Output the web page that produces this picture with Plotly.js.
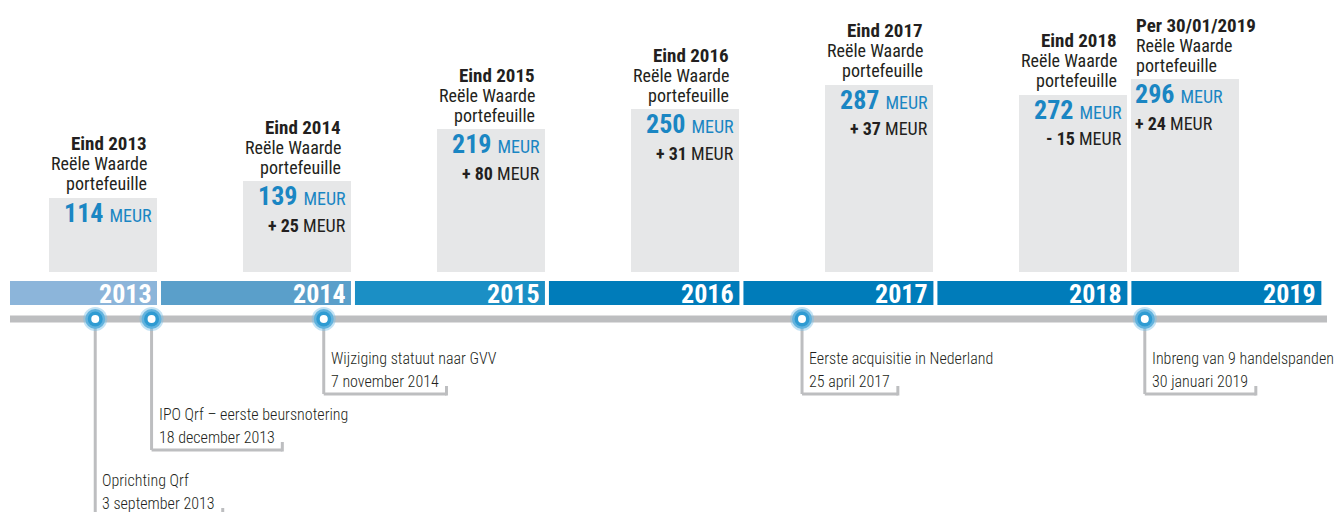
<!DOCTYPE html>
<html>
<head>
<meta charset="utf-8">
<script src="https://cdn.plot.ly/plotly-3.0.1.min.js"></script>
<style>
  html, body { margin: 0; padding: 0; background: #ffffff; }
  #chart { width: 1336px; height: 512px; }
</style>
</head>
<body>
<div id="chart"></div>
<script>
// ---------------- DATA ----------------
const periods = ['Eind 2013', 'Eind 2014', 'Eind 2015', 'Eind 2016', 'Eind 2017', 'Eind 2018', 'Per 30/01/2019'];
const valueDates = ['2013-12-31', '2014-12-31', '2015-12-31', '2016-12-31', '2017-12-31', '2018-12-31', '2019-01-30'];
const fairValue = [114, 139, 219, 250, 287, 272, 296];          // Reële Waarde portefeuille (MEUR)
const changeVsPrev = [null, 25, 80, 31, 37, -15, 24];             // MEUR
const years = [2013, 2014, 2015, 2016, 2017, 2018, 2019];

const eventDates = ['2013-09-03', '2013-12-18', '2014-11-07', '2017-04-25', '2019-01-30'];
const eventTitles = ['Oprichting Qrf', 'IPO Qrf \u2013 eerste beursnotering', 'Wijziging statuut naar GVV',
                     'Eerste acquisitie in Nederland', 'Inbreng van 9 handelspanden'];
const eventDateLabels = ['3 september 2013', '18 december 2013', '7 november 2014', '25 april 2017', '30 januari 2019'];

// ---------------- LAYOUT HELPERS ----------------
const W = 1336, H = 512;
const FONT = "'Roboto Condensed', 'DejaVu Sans Condensed', sans-serif";
const DARK = '#231f20', BLUE = '#1a86c3', GREY = '#bdbec0', BOX = '#e6e7e8';
const YEAR_MS = 365.2425 * 864e5;
const PXYR = 194.1, X2014 = 159;                     // pixels per year, pixel of 1 Jan 2014
const T2014 = Date.UTC(2014, 0, 1);
const px2ms = p => p / PXYR * YEAR_MS;
const xAt = p => T2014 + px2ms(p - X2014);
const iso = ms => new Date(ms).toISOString().replace('T', ' ').replace('Z', '');
const py = p => 1 - p / H;                            // paper y from pixel
const ZERO_PX = 272, PX_PER_MEUR = 0.652;
const TIMELINE_PX = 319;
const eventRow = [2, 1, 0, 0, 0];
const ROW_Y = [358, 414, 480];

const canvas = document.createElement('canvas');
const ctx = canvas.getContext('2d');
ctx.font = "300 16px " + FONT;

const shapes = [];
const annotations = [];

// year bands
const bandColors = ['#8cb5da', '#5a9fca', '#1b8fc5', '#007cba', '#007cba', '#007cba', '#007cba'];
years.forEach((y, i) => {
  const x0 = i === 0 ? xAt(10) : Date.UTC(y, 0, 1) + px2ms(2);
  const x1 = Date.UTC(y + 1, 0, 1) - px2ms(2);
  shapes.push({type: 'rect', xref: 'x', yref: 'paper', x0: iso(x0), x1: iso(x1),
    y0: py(305), y1: py(281), fillcolor: bandColors[i], line: {width: 0}, layer: 'below'});
  annotations.push({xref: 'x', yref: 'paper', x: iso(x1), y: py(293.5), xanchor: 'right', yanchor: 'middle',
    xshift: -3, showarrow: false, text: '<b>' + y + '</b>', font: {family: FONT, size: 26, color: '#ffffff'}});
});

// timeline bar
shapes.push({type: 'line', xref: 'x', yref: 'paper', x0: iso(xAt(10)), x1: iso(xAt(1327)),
  y0: py(TIMELINE_PX), y1: py(TIMELINE_PX), line: {color: GREY, width: 7}, layer: 'below'});

// bars (grey boxes)
const BAR_W = px2ms(108), GAP = px2ms(2);
const offsets = [], edges = [], aligns = [];
valueDates.forEach((d, i) => {
  const ms = Date.parse(d);
  const yr = new Date(ms).getUTCFullYear();
  const right = d.slice(5) === '12-31';
  const edge = right ? Date.UTC(yr + 1, 0, 1) - GAP : Date.UTC(yr, 0, 1) + GAP;
  const left = right ? edge - BAR_W : edge;
  offsets.push(left - ms);
  edges.push(edge);
  aligns.push(right ? 'right' : 'left');
});

periods.forEach((p, i) => {
  const right = aligns[i] === 'right';
  const base = {xref: 'x', yref: 'y', x: iso(edges[i]), y: fairValue[i], xanchor: aligns[i], align: aligns[i],
    yanchor: 'middle', showarrow: false};
  const hs = right ? -8 : 3;
  annotations.push(Object.assign({}, base, {xshift: hs, yshift: 54, text: '<b>' + p + '</b>',
    font: {family: FONT, size: 19, color: DARK}}));
  annotations.push(Object.assign({}, base, {xshift: hs, yshift: 34, text: 'Reële Waarde',
    font: {family: FONT, size: 18, color: DARK}}));
  annotations.push(Object.assign({}, base, {xshift: hs, yshift: 14, text: 'portefeuille',
    font: {family: FONT, size: 18, color: DARK}}));
  const vs = right ? -3 : 2;
  annotations.push(Object.assign({}, base, {xshift: vs, yshift: -15,
    text: '<b>' + fairValue[i] + '</b> <span style="font-size:18px">MEUR</span>',
    font: {family: FONT, size: 26, color: BLUE}}));
  if (changeVsPrev[i] !== null) {
    const c = changeVsPrev[i];
    const sign = c < 0 ? '- ' : '+ ';
    annotations.push(Object.assign({}, base, {xshift: vs, yshift: -44,
      text: '<b>' + sign + Math.abs(c) + '</b> MEUR', font: {family: FONT, size: 18, color: DARK}}));
  }
});

// events: stems, brackets and labels
eventDates.forEach((d, i) => {
  const ms = Date.parse(d);
  const r = ROW_Y[eventRow[i]];
  const bottom = r + 36;
  const tw = ctx.measureText(eventDateLabels[i]).width;
  const xEnd = ms + px2ms(7 + tw + 8);
  shapes.push({type: 'line', xref: 'x', yref: 'paper', x0: d, x1: d, y0: py(TIMELINE_PX), y1: py(bottom),
    line: {color: GREY, width: 3}, layer: 'below'});
  shapes.push({type: 'line', xref: 'x', yref: 'paper', x0: d, x1: iso(xEnd), y0: py(bottom), y1: py(bottom),
    line: {color: GREY, width: 3}, layer: 'below'});
  shapes.push({type: 'line', xref: 'x', yref: 'paper', x0: iso(xEnd), x1: iso(xEnd), y0: py(bottom + 1.5), y1: py(bottom - 8),
    line: {color: GREY, width: 3}, layer: 'below'});
  annotations.push({xref: 'x', yref: 'paper', x: d, y: py(r), xanchor: 'left', yanchor: 'middle', xshift: 5,
    showarrow: false, text: eventTitles[i], font: {family: FONT, size: 16, color: DARK, weight: 300}});
  annotations.push({xref: 'x', yref: 'paper', x: d, y: py(r + 23), xanchor: 'left', yanchor: 'middle', xshift: 5,
    showarrow: false, text: eventDateLabels[i], font: {family: FONT, size: 16, color: DARK, weight: 300}});
});

// ---------------- TRACES ----------------
const traces = [
  {type: 'bar', x: valueDates, y: fairValue, width: valueDates.map(() => BAR_W), offset: offsets,
   marker: {color: BOX, line: {width: 0}}, hoverinfo: 'skip', xaxis: 'x', yaxis: 'y'}
];
const zeros = eventDates.map(() => 0);
[[24, 'rgba(120,190,230,0.45)'], [20, '#62b3de'], [15, '#2f9bd2'], [8, '#ffffff']].forEach(([s, c]) => {
  traces.push({type: 'scatter', mode: 'markers', x: eventDates, y: zeros, xaxis: 'x', yaxis: 'y2',
    marker: {size: s, color: c, line: {width: 0}}, hoverinfo: 'skip', cliponaxis: false});
});

const layout = {
  width: W, height: H,
  margin: {l: 0, r: 0, t: 0, b: 0, pad: 0},
  paper_bgcolor: '#ffffff', plot_bgcolor: '#ffffff',
  showlegend: false, hovermode: false,
  xaxis: {type: 'date', range: [iso(xAt(0)), iso(xAt(W))], visible: false, fixedrange: true},
  yaxis: {range: [-(H - ZERO_PX) / PX_PER_MEUR, ZERO_PX / PX_PER_MEUR], visible: false, fixedrange: true},
  yaxis2: {overlaying: 'y', range: [-(H - TIMELINE_PX), TIMELINE_PX], visible: false, fixedrange: true},
  shapes: shapes,
  annotations: annotations,
  bargap: 0
};

Plotly.newPlot('chart', traces, layout, {displayModeBar: false, staticPlot: true});
</script>
</body>
</html>
